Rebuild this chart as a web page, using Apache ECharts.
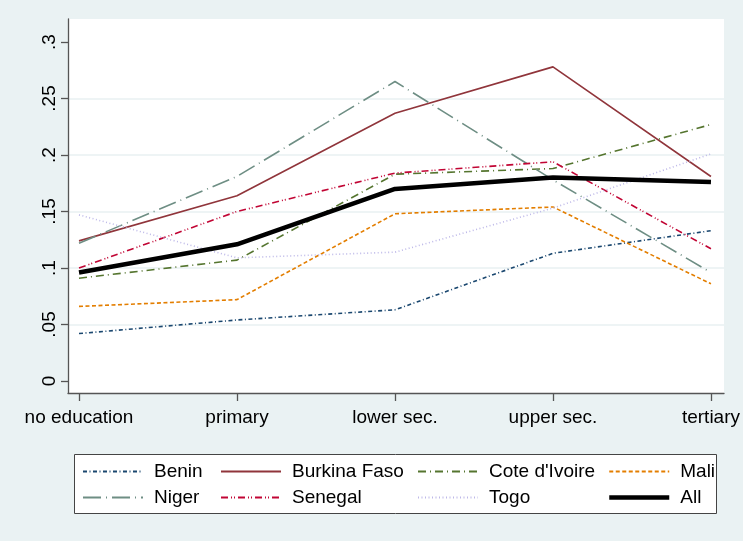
<!DOCTYPE html>
<html>
<head>
<meta charset="utf-8">
<script src="https://cdn.jsdelivr.net/npm/echarts@6/dist/echarts.min.js"></script>
<style>html,body{margin:0;padding:0;background:#eaf2f3;}#c{width:743px;height:541px;}</style>
</head>
<body>
<div id="c"></div>
<script>
const categories = ['no education', 'primary', 'lower sec.', 'upper sec.', 'tertiary'];
const yTicks = [0, 0.05, 0.1, 0.15, 0.2, 0.25, 0.3];
const benin = [0.042, 0.054, 0.063, 0.113, 0.133];
const burkinaFaso = [0.124, 0.164, 0.237, 0.278, 0.181];
const coteDIvoire = [0.091, 0.107, 0.183, 0.188, 0.227];
const mali = [0.066, 0.072, 0.148, 0.154, 0.086];
const niger = [0.122, 0.181, 0.265, 0.178, 0.096];
const senegal = [0.100, 0.150, 0.184, 0.194, 0.117];
const togo = [0.147, 0.109, 0.114, 0.153, 0.201];
const all = [0.096, 0.121, 0.170, 0.180, 0.176];

const FONT = '"Liberation Sans", Arial, sans-serif';
const AX = '#555';

function mk(name, vals, color, type, width) {
  return {
    name: name, type: 'line', xAxisIndex: 2, yAxisIndex: 2,
    data: vals.map((v, i) => [i, v]),
    symbol: 'none', showSymbol: false, silent: true,
    lineStyle: { color: color, width: width, type: type, cap: 'butt' },
    itemStyle: { color: color },
    emphasis: { disabled: true }
  };
}

const series = [
  mk('Benin', benin, '#1a476f', [4, 2.5, 1, 2.5], 1.6),
  mk('Burkina Faso', burkinaFaso, '#90353b', 'solid', 1.6),
  mk("Cote d'Ivoire", coteDIvoire, '#55752f', [8, 4, 1, 4], 1.6),
  mk('Mali', mali, '#e37e00', [4, 2.5], 1.6),
  mk('Niger', niger, '#6e8e84', [18, 5, 1, 5], 1.6),
  mk('Senegal', senegal, '#c10534', [7, 3, 1, 2, 1, 3], 1.6),
  mk('Togo', togo, '#bdb8e8', [1, 2.5], 1.6),
  mk('All', all, '#000000', 'solid', 4.5)
];

function leg(left, names) {
  return {
    orient: 'vertical', left: left, top: 462, padding: 0,
    itemWidth: 60, itemHeight: 14, itemGap: 7,
    data: names.map(n => n === 'All' ? { name: n, lineStyle: { width: 4.5 } } : n),
    selectedMode: false,
    itemStyle: { opacity: 0 },
    textStyle: { fontFamily: FONT, fontSize: 19, color: '#000', lineHeight: 19, padding: [0, 0, 0, 6] }
  };
}

const chart = echarts.init(document.getElementById('c'), null, { renderer: 'canvas' });
chart.setOption({
  backgroundColor: '#eaf2f3',
  animation: false,
  textStyle: { fontFamily: FONT },
  grid: [
    { left: 68, right: 19, top: 19, bottom: 148, show: true, backgroundColor: '#ffffff', borderWidth: 0 },
    { left: 68, right: 19, top: 98.5, bottom: 216.5 },
    { left: 79, right: 31, top: 42, bottom: 160 }
  ],
  xAxis: [
    { gridIndex: 0, type: 'value', min: 0, max: 1, axisLine: { show: true, onZero: false, lineStyle: { color: AX, width: 1.3 } }, axisTick: { show: false }, axisLabel: { show: false }, splitLine: { show: false } },
    { gridIndex: 1, type: 'value', min: 0, max: 1, show: false },
    { gridIndex: 2, type: 'value', min: 0, max: 4, interval: 1, offset: 12,
      axisLine: { show: false, onZero: false }, axisTick: { show: true, length: 8, lineStyle: { color: AX, width: 1.3 } },
      axisLabel: { show: true, margin: 15, fontSize: 19, color: '#000', fontFamily: FONT, formatter: v => categories[v] !== undefined ? categories[v] : '' },
      splitLine: { show: false } }
  ],
  yAxis: [
    { gridIndex: 0, type: 'value', min: 0, max: 1, axisLine: { show: true, onZero: false, lineStyle: { color: AX, width: 1.3 } }, axisTick: { show: false }, axisLabel: { show: false }, splitLine: { show: false } },
    { gridIndex: 1, type: 'value', min: 0.05, max: 0.25, interval: 0.05, axisLine: { show: false }, axisTick: { show: false }, axisLabel: { show: false },
      splitLine: { show: true, lineStyle: { color: '#e8f0f2', width: 1.6 } } },
    { gridIndex: 2, type: 'value', min: yTicks[0], max: yTicks[yTicks.length - 1], interval: 0.05, offset: 11,
      axisLine: { show: false, onZero: false }, axisTick: { show: true, length: 7, lineStyle: { color: AX, width: 1.3 } },
      axisLabel: { show: true, rotate: 90, margin: 9, fontSize: 19, color: '#000', fontFamily: FONT,
        formatter: v => { const r = Math.round(v * 100) / 100; return r === 0 ? '0' : String(r).replace(/^0/, ''); } },
      splitLine: { show: false } }
  ],
  legend: [
    leg(82, ['Benin', 'Niger']),
    leg(220, ['Burkina Faso', 'Senegal']),
    leg(417, ["Cote d'Ivoire", 'Togo']),
    leg(607, ['Mali', 'All'])
  ],
  graphic: [
    { type: 'rect', z: -1, zlevel: 0, silent: true, shape: { x: 74.5, y: 454.5, width: 642, height: 59 },
      style: { fill: '#ffffff', stroke: '#444', lineWidth: 1 } }
  ],
  series: series
});
</script>
</body>
</html>
